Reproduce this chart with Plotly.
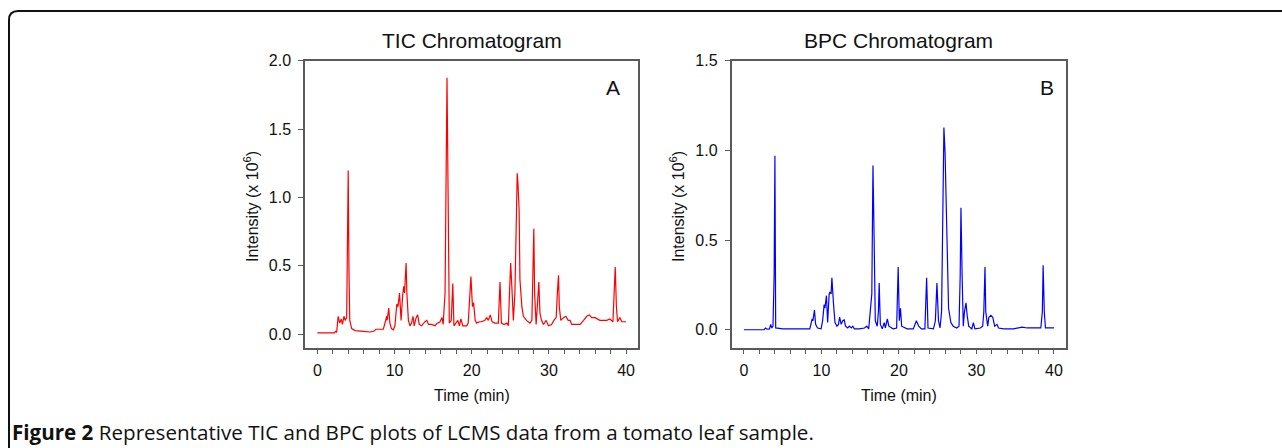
import plotly.graph_objects as go

W, H = 1282, 448

# ---------------- data ----------------
tic_time = [0.0, 2.2, 2.35, 2.5, 2.7, 2.9, 3.1, 3.25, 3.45, 3.6, 3.8, 3.9, 4.0, 4.1, 4.2, 4.45, 4.9,
            6.0, 6.8, 7.3, 7.6, 8.55, 8.8, 9.0, 9.05, 9.25, 9.4, 9.6, 9.85, 10.05, 10.3, 10.45,
            10.65, 10.85, 11.05, 11.2, 11.3, 11.5, 11.6, 11.8, 12.0, 12.2, 12.4, 12.55, 12.8,
            13.0, 13.2, 13.5, 13.95, 14.2, 14.4, 14.8, 15.25, 15.45, 15.9, 16.15, 16.3, 16.55,
            16.8, 17.0, 17.1, 17.35, 17.55, 17.7, 17.95, 18.2, 18.4, 18.6, 18.85, 19.35, 19.55,
            19.8, 19.9, 20.1, 20.25, 20.45, 20.65, 21.0, 21.3, 21.7, 21.95, 22.15, 22.4, 22.65,
            23.0, 23.45, 23.67, 23.85, 24.2, 24.55, 24.75, 24.9, 25.05, 25.2, 25.4, 25.6, 25.8,
            25.9, 26.0, 26.15, 26.25, 26.5, 26.7, 27.1, 27.55, 27.8, 27.95, 28.05, 28.15, 28.35,
            28.5, 28.7, 28.85, 29.05, 29.3, 29.65, 29.95, 30.35, 30.65, 30.95, 31.1, 31.25,
            31.35, 31.55, 31.9, 32.2, 32.5, 32.75, 32.95, 33.4, 34.05, 34.5, 34.9, 35.25, 35.55,
            36.0, 36.6, 37.5, 37.9, 38.3, 38.5, 38.6, 38.75, 38.9, 39.2, 39.45, 40.0]
tic_int = [0.008, 0.008, 0.02, 0.012, 0.13, 0.08, 0.11, 0.07, 0.13, 0.10, 0.12, 0.5, 1.196, 0.45,
           0.10, 0.04, 0.025, 0.02, 0.015, 0.02, 0.035, 0.035, 0.08, 0.13, 0.10, 0.19, 0.08,
           0.04, 0.03, 0.06, 0.22, 0.20, 0.30, 0.10, 0.28, 0.35, 0.30, 0.52, 0.30, 0.10, 0.06,
           0.08, 0.13, 0.06, 0.12, 0.14, 0.07, 0.06, 0.09, 0.10, 0.07, 0.07, 0.06, 0.075, 0.09,
           0.12, 0.07, 0.30, 1.876, 0.30, 0.08, 0.10, 0.37, 0.06, 0.08, 0.10, 0.06, 0.11, 0.06,
           0.06, 0.08, 0.30, 0.42, 0.20, 0.23, 0.10, 0.08, 0.09, 0.09, 0.10, 0.12, 0.10, 0.14,
           0.09, 0.08, 0.08, 0.38, 0.08, 0.07, 0.08, 0.06, 0.30, 0.52, 0.35, 0.10, 0.30, 1.10,
           1.177, 1.10, 0.90, 0.40, 0.20, 0.13, 0.10, 0.08, 0.10, 0.50, 0.77, 0.30, 0.07, 0.20,
           0.38, 0.15, 0.10, 0.07, 0.10, 0.06, 0.07, 0.10, 0.12, 0.30, 0.43, 0.20, 0.10, 0.12,
           0.13, 0.10, 0.10, 0.07, 0.07, 0.07, 0.10, 0.13, 0.14, 0.12, 0.12, 0.10, 0.10, 0.11,
           0.09, 0.30, 0.49, 0.20, 0.09, 0.12, 0.09, 0.09]

bpc_time = [0.0, 2.6, 2.8, 3.0, 3.3, 3.45, 3.6, 3.75, 3.9, 4.0, 4.1, 5.0, 8.5, 8.65, 8.8, 8.9,
            9.1, 9.25, 9.5, 9.95, 10.15, 10.35, 10.45, 10.65, 10.8, 11.0, 11.1, 11.25, 11.35,
            11.55, 11.75, 12.0, 12.2, 12.35, 12.55, 12.75, 12.95, 13.1, 13.4, 13.6, 13.85, 14.05,
            14.25, 14.9, 15.55, 15.85, 16.1, 16.5, 16.65, 16.8, 16.95, 17.2, 17.35, 17.45, 17.6,
            17.85, 18.1, 18.25, 18.5, 18.7, 19.25, 19.7, 19.9, 20.05, 20.2, 20.35, 20.75, 21.05,
            21.85, 22.1, 22.25, 22.55, 22.9, 23.35, 23.57, 23.75, 24.45, 24.7, 24.9, 25.1, 25.3,
            25.5, 25.65, 25.8, 25.95, 26.1, 26.25, 26.4, 26.7, 27.0, 27.45, 27.75, 27.9, 28.0,
            28.15, 28.3, 28.45, 28.65, 28.8, 29.0, 29.4, 29.6, 29.8, 30.5, 30.8, 30.95, 31.1,
            31.2, 31.45, 31.6, 31.85, 32.1, 32.35, 32.65, 32.85, 33.5, 34.8, 35.7, 35.9, 36.55,
            38.3, 38.5, 38.6, 38.75, 38.9, 40.0]
bpc_int = [0.0, 0.0, 0.01, 0.003, 0.005, 0.03, 0.01, 0.02, 0.3, 0.97, 0.01, 0.005, 0.005, 0.04,
           0.06, 0.05, 0.11, 0.03, 0.01, 0.005, 0.05, 0.14, 0.12, 0.19, 0.04, 0.20, 0.21, 0.20,
           0.29, 0.15, 0.04, 0.02, 0.03, 0.07, 0.03, 0.05, 0.055, 0.02, 0.01, 0.02, 0.01, 0.02,
           0.005, 0.005, 0.01, 0.02, 0.005, 0.20, 0.916, 0.50, 0.05, 0.02, 0.10, 0.26, 0.03,
           0.005, 0.04, 0.01, 0.06, 0.02, 0.005, 0.01, 0.35, 0.05, 0.12, 0.02, 0.01, 0.005, 0.005,
           0.03, 0.05, 0.02, 0.005, 0.005, 0.29, 0.01, 0.005, 0.05, 0.26, 0.05, 0.01, 0.10, 0.60,
           1.128, 0.986, 0.70, 0.30, 0.12, 0.04, 0.02, 0.01, 0.02, 0.30, 0.68, 0.30, 0.02, 0.10,
           0.15, 0.08, 0.02, 0.005, 0.04, 0.005, 0.01, 0.02, 0.10, 0.35, 0.10, 0.02, 0.07, 0.08,
           0.07, 0.02, 0.03, 0.01, 0.005, 0.005, 0.01, 0.015, 0.01, 0.01, 0.10, 0.36, 0.10, 0.01,
           0.01]

tic_yticks = [0.0, 0.5, 1.0, 1.5, 2.0]
bpc_yticks = [0.0, 0.5, 1.0, 1.5]
x_ticks = [0, 10, 20, 30, 40]

titles = ["TIC Chromatogram", "BPC Chromatogram"]
panel_letters = ["A", "B"]
x_title = "Time (min)"
y_title = "Intensity (x 10<sup>6</sup>)"
caption_bold = "Figure 2"
caption_rest = " Representative TIC and BPC plots of LCMS data from a tomato leaf sample."

# ---------------- layout helpers ----------------
def px_x(p):
    return p / W

def px_y(p):
    return 1 - p / H

FONT = "Liberation Sans, Arial, sans-serif"
FRAME = "#5a5a5a"

fig = go.Figure()
fig.add_trace(go.Scatter(x=tic_time, y=tic_int, mode="lines",
                         line=dict(color="#ff0000", width=1.2), xaxis="x", yaxis="y",
                         showlegend=False, hoverinfo="skip"))
fig.add_trace(go.Scatter(x=bpc_time, y=bpc_int, mode="lines",
                         line=dict(color="#0000ff", width=1.2), xaxis="x2", yaxis="y2",
                         showlegend=False, hoverinfo="skip"))

y_dom = [px_y(347.7), px_y(60.7)]
dom1 = [px_x(305), px_x(638)]
dom2 = [px_x(731.5), px_x(1066)]
xr = [-1.6, 41.55]

def xaxis(domain, anchor):
    return dict(domain=domain, anchor=anchor, range=xr, tickvals=x_ticks, automargin=False,
                showline=True, mirror=True, linecolor=FRAME, linewidth=1.5,
                ticks="outside", ticklen=5, tickwidth=1.2, tickcolor=FRAME,
                minor=dict(dtick=2, tick0=0, ticks="outside", ticklen=5, tickwidth=1.2, tickcolor=FRAME),
                showgrid=False, zeroline=False,
                tickfont=dict(family=FONT, size=16, color="#111"), ticklabelstandoff=2)

def yaxis(domain, anchor, rng, ticks):
    return dict(domain=domain, anchor=anchor, range=rng, tickvals=ticks, tickformat=".1f",
                automargin=False,
                showline=True, mirror=True, linecolor=FRAME, linewidth=1.5,
                ticks="outside", ticklen=5, tickwidth=1.2, tickcolor=FRAME,
                showgrid=False, zeroline=False,
                tickfont=dict(family=FONT, size=16, color="#111"), ticklabelstandoff=4)

annotations = []
for i, (dom, lx, ly) in enumerate([(dom1, 613, 88), (dom2, 1047, 87)]):
    cx = (dom[0] + dom[1]) / 2
    annotations.append(dict(text=titles[i], x=cx, y=px_y(40), xref="paper", yref="paper",
                            showarrow=False, xanchor="center", yanchor="middle",
                            font=dict(family=FONT, size=21, color="#111")))
    annotations.append(dict(text=panel_letters[i], x=px_x(lx), y=px_y(ly), xref="paper", yref="paper",
                            showarrow=False, xanchor="center", yanchor="middle",
                            font=dict(family=FONT, size=21, color="#111")))
    annotations.append(dict(text=x_title, x=cx, y=px_y(395), xref="paper", yref="paper",
                            showarrow=False, xanchor="center", yanchor="middle",
                            font=dict(family=FONT, size=16, color="#111")))
annotations.append(dict(text=y_title, x=px_x(251), y=px_y(207), xref="paper", yref="paper",
                        showarrow=False, xanchor="center", yanchor="middle", textangle=-90,
                        font=dict(family=FONT, size=16, color="#111")))
annotations.append(dict(text=y_title, x=px_x(677), y=px_y(207), xref="paper", yref="paper",
                        showarrow=False, xanchor="center", yanchor="middle", textangle=-90,
                        font=dict(family=FONT, size=16, color="#111")))
annotations.append(dict(text="<b>" + caption_bold + "</b>" + caption_rest,
                        x=px_x(10), y=px_y(432), xref="paper", yref="paper",
                        showarrow=False, xanchor="left", yanchor="middle",
                        font=dict(family="Open Sans, sans-serif", size=20.6, color="#111")))

# rounded page border (left and top edges)
bx, by, r = 9, 11, 9
path = (f"M {px_x(bx)} {px_y(H + 5)} L {px_x(bx)} {px_y(by + r)} "
        f"Q {px_x(bx)} {px_y(by)} {px_x(bx + r)} {px_y(by)} L {px_x(W + 5)} {px_y(by)}")

fig.update_layout(
    template="none",
    width=W, height=H, margin=dict(l=0, r=0, t=0, b=0, pad=0, autoexpand=False),
    paper_bgcolor="white", plot_bgcolor="white",
    xaxis=xaxis(dom1, "y"), yaxis=yaxis(y_dom, "x", [-0.1, 2.0], tic_yticks),
    xaxis2=xaxis(dom2, "y2"), yaxis2=yaxis(y_dom, "x2", [-0.1, 1.5], bpc_yticks),
    annotations=annotations,
    shapes=[dict(type="path", path=path, xref="paper", yref="paper",
                 line=dict(color="#111", width=2))],
)

fig.write_html("out.html", config={"displayModeBar": False},
               post_script="document.body.style.margin='0';document.body.style.padding='0';"
                           "document.documentElement.style.overflow='hidden';")
